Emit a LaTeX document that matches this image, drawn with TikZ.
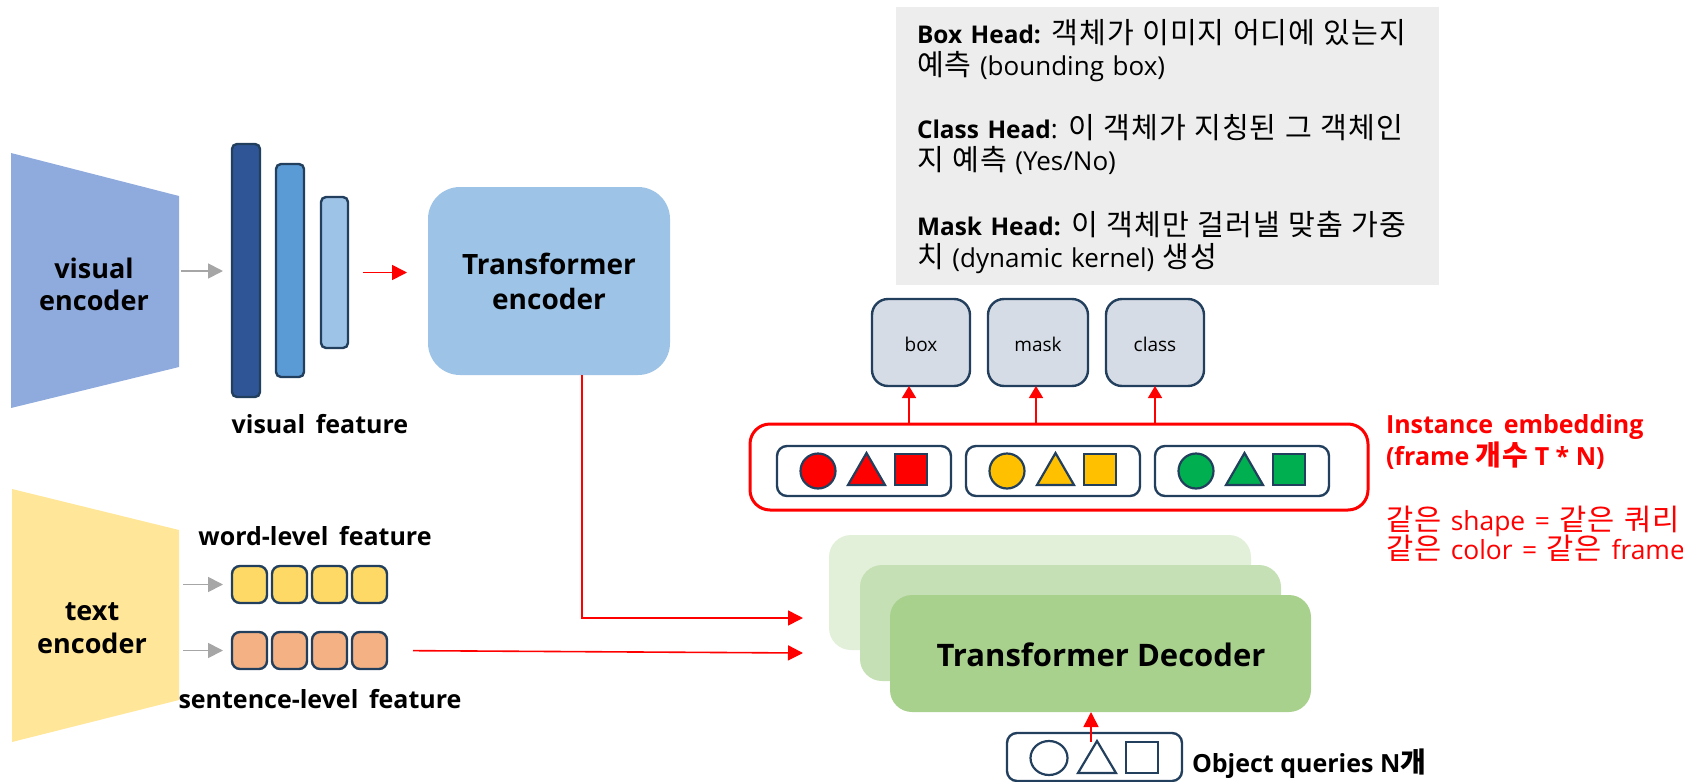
\documentclass[tikz,border=0pt]{standalone}
\usepackage{fontspec}
\setmainfont{Open Sans}
\newfontfamily\kr[Scale=1.12, LetterSpace=3]{Noto Sans CJK KR}
\usetikzlibrary{arrows.meta,fit,calc,shapes.geometric}

\definecolor{edge}{HTML}{223F5E}
\definecolor{veblue}{HTML}{8FAADC}
\definecolor{bara}{HTML}{2F5597}
\definecolor{barb}{HTML}{5B9BD5}
\definecolor{barc}{HTML}{9DC3E6}
\definecolor{encblue}{HTML}{9DC3E6}
\definecolor{teyellow}{HTML}{FFE699}
\definecolor{wordy}{HTML}{FFD966}
\definecolor{sento}{HTML}{F4B183}
\definecolor{arrowgray}{HTML}{A6A6A6}
\definecolor{headfill}{HTML}{D6DCE5}
\definecolor{notegray}{HTML}{EDEDED}
\definecolor{decA}{HTML}{E2F0D9}
\definecolor{decB}{HTML}{C5E0B4}
\definecolor{decC}{HTML}{A9D18E}
\definecolor{qyellow}{HTML}{FFC000}
\definecolor{qgreen}{HTML}{00B050}
\definecolor{pptred}{HTML}{FF0000}

\newcommand{\headname}[1]{{\fontsize{12.2}{15}\selectfont\bfseries #1}}
\newcommand{\notesize}{\fontsize{13}{15}\selectfont\spaceskip 0.33em\relax}
\newcommand{\redsize}{\fontsize{13.2}{15}\selectfont\spaceskip 0.36em\relax}

\tikzset{
  box/.style={inner sep=0pt, outer sep=0pt},
  bar/.style={box, draw=edge, line width=1.2pt, rounded corners=2.5pt},
  featbox/.style={box, draw=edge, line width=1.2pt, rounded corners=4pt},
  headbox/.style={box, draw=edge, line width=1.2pt, rounded corners=8pt, fill=headfill},
  slot/.style={box, draw=edge, line width=1.2pt, rounded corners=5pt},
  declayer/.style={box, rounded corners=11pt},
  shp/.style={box, draw=edge, line width=1.1pt},
  shpline/.style={draw=edge, line width=1.1pt, line join=miter},
  grayarrow/.style={draw=arrowgray, line width=0.9pt, -{Triangle[length=7.5pt,width=7.5pt]}},
  redarrow/.style={draw=pptred, line width=0.8pt, -{Triangle[length=7.5pt,width=7.5pt]}},
  headarrow/.style={draw=pptred, line width=0.8pt, -{Triangle[length=6pt,width=7pt]}},
  lbl/.style={box, anchor=base},
  lblw/.style={box, anchor=base west},
  encfont/.style={font=\fontsize{13.5}{16}\selectfont\bfseries},
  featfont/.style={font=\fontsize{12.5}{15}\selectfont\bfseries},
  notefont/.style={font=\notesize},
  redfont/.style={font=\redsize},
}

\begin{document}
\begin{tikzpicture}[x=0.5pt,y=-0.5pt]
\useasboundingbox (0,0) rectangle (1683,782);

% ---------------- visual branch ----------------
\fill[veblue] (11,153) -- (179,196) -- (179,367) -- (11,408) -- cycle;
\coordinate (veR) at (181,271);
\node[lbl, encfont] (vel1) at (94,278) {visual};
\node[lbl, encfont] (vel2) at (94,310) {encoder};

\node[bar, fill=bara, fit={(232,144) (260,397)}] (b1) {};
\node[bar, fill=barb, fit={(276,164) (304,377)}] (b2) {};
\node[bar, fill=barc, fit={(321,197) (348,348)}] (b3) {};
\node[lbl, featfont] (vf) at (320,433) {visual\, feature};

\draw[grayarrow, shorten >=4.5pt] (veR) -- (veR -| b1.west);

\node[box, fill=encblue, rounded corners=16pt, fit={(428,187) (670,375)}] (enc) {};
\node[lbl, font=\fontsize{14}{16}\selectfont\bfseries] (encl1) at (549,274) {Transformer};
\node[lbl, font=\fontsize{14}{16}\selectfont\bfseries] (encl2) at (549,309) {encoder};

\draw[redarrow, shorten <=7.5pt, shorten >=10.5pt] (b3.east) -- (b3.east -| enc.west);

% ---------------- text branch ----------------
\fill[teyellow] (12,489) -- (179,530) -- (179,700) -- (12,742) -- cycle;
\coordinate (teR) at (183,0);
\node[lbl, encfont] (tel1) at (92,620) {text};
\node[lbl, encfont] (tel2) at (92,653) {encoder};

\node[lbl, featfont] (wl) at (315,545) {word-level\, feature};
\node[lbl, featfont] (sl) at (320,708) {sentence-level\, feature};

\foreach \i/\x in {1/232,2/272,3/312,4/352} {
  \node[featbox, fill=wordy, fit={(\x,566) (\x+35,603)}] (w\i) {};
  \node[featbox, fill=sento, fit={(\x,632) (\x+35,669)}] (s\i) {};
}
\draw[grayarrow, shorten >=4.5pt] (w1.west -| teR) -- (w1.west);
\draw[grayarrow, shorten >=4.5pt] (s1.west -| teR) -- (s1.west);

% ---------------- decoder stack ----------------
\node[declayer, fill=decA, fit={(829,535) (1251,650)}] (dA) {};
\node[declayer, fill=decB, fit={(860,565) (1281,681)}] (dB) {};
\node[declayer, fill=decC, fit={(890,595) (1311,712)}] (dC) {};
\node[lbl, font=\fontsize{15.5}{18}\selectfont\bfseries] (decl) at (1101,666) {Transformer Decoder};

\coordinate (in1) at (803,618);
\coordinate (in2) at (803,653);
\draw[redarrow] ([xshift=16.5pt]enc.south) |- (in1);
\draw[redarrow, shorten <=13pt] (s4.east) -- (in2);

% ---------------- object queries ----------------
\node[slot, fit={(1007,733) (1182,781)}] (oq) {};
\node[shp, ellipse, minimum width=18.5pt, minimum height=17pt] (oqc) at (1049,758) {};
\draw[shpline] (1078,773) -- (1097,741) -- (1116,773) -- cycle;
\node[shp, minimum width=16pt, minimum height=15.5pt] (oqs) at (1142,757.5) {};
\draw[redarrow] ([xshift=-1.75pt,yshift=-4.5pt]oq.north) -- ([xshift=-1.75pt]oq.north |- dC.south);
\node[lblw, featfont] (oql) at (1192,772) {Object queries N{\kr 개}};

% ---------------- instance embeddings ----------------
\node[box, draw=pptred, line width=1.5pt, rounded corners=10pt, fit={(750,424) (1368,510)}] (emb) {};
\foreach \k/\dx/\col in {1/0/pptred,2/189/qyellow,3/378/qgreen} {
  \node[slot, fit={(777+\dx,446) (951+\dx,496)}] (slot\k) {};
  \node[shp, circle, fill=\col, minimum size=17.5pt] (ec\k) at (818+\dx,471) {};
  \draw[shpline, fill=\col] (848+\dx,485) -- (866.5+\dx,453) -- (885+\dx,485) -- cycle;
  \node[shp, fill=\col, minimum width=16pt, minimum height=15.5pt] (es\k) at (911+\dx,469.5) {};
}

\node[lblw, featfont, text=pptred] (iel1) at (1386,433) {Instance\, embedding};
\node[lblw, featfont, text=pptred] (iel2) at (1386,465) {(frame {\kr 개수} T * N)};
\node[lblw, redfont, text=pptred] (iel3) at (1386,530) {{\kr 같은} shape = {\kr 같은 쿼리}};
\node[lblw, redfont, text=pptred] (iel4) at (1386,559) {{\kr 같은} color = {\kr 같은} frame};

% ---------------- heads ----------------
\node[headbox, fit={(872,299) (970,386)}] (hb) {};
\node[headbox, fit={(988,299) (1088,386)}] (hm) {};
\node[headbox, fit={(1106,299) (1204,386)}] (hc) {};
\node[lbl, font=\fontsize{9.5}{11}\selectfont] (hbl) at (921,351) {box};
\node[lbl, font=\fontsize{9.5}{11}\selectfont] (hml) at (1038,351) {mask};
\node[lbl, font=\fontsize{9.5}{11}\selectfont] (hcl) at (1155,351) {class};

\draw[headarrow] ([xshift=-6pt]hb.south |- emb.north) -- ([xshift=-6pt]hb.south);
\draw[headarrow] ([xshift=-1pt]hm.south |- emb.north) -- ([xshift=-1pt]hm.south);
\draw[headarrow] (hc.south |- emb.north) -- (hc.south);

% ---------------- note ----------------
\node[box, fill=notegray, fit={(896,7) (1439,285)}] (note) {};
\node[lblw, notefont] (n1) at (917,43) {\headname{Box Head:} {\kr 객체가 이미지 어디에 있는지}};
\node[lblw, notefont] (n2) at (917,75) {{\kr 예측} (bounding box)};
\node[lblw, notefont] (n3) at (917,138) {\headname{Class Head}: {\kr 이 객체가 지칭된 그 객체인}};
\node[lblw, notefont] (n4) at (917,170) {{\kr 지 예측} (Yes/No)};
\node[lblw, notefont] (n5) at (917,235) {\headname{Mask Head:} {\kr 이 객체만 걸러낼 맞춤 가중}};
\node[lblw, notefont] (n6) at (917,267) {{\kr 치} (dynamic kernel) {\kr 생성}};
\end{tikzpicture}
\end{document}
